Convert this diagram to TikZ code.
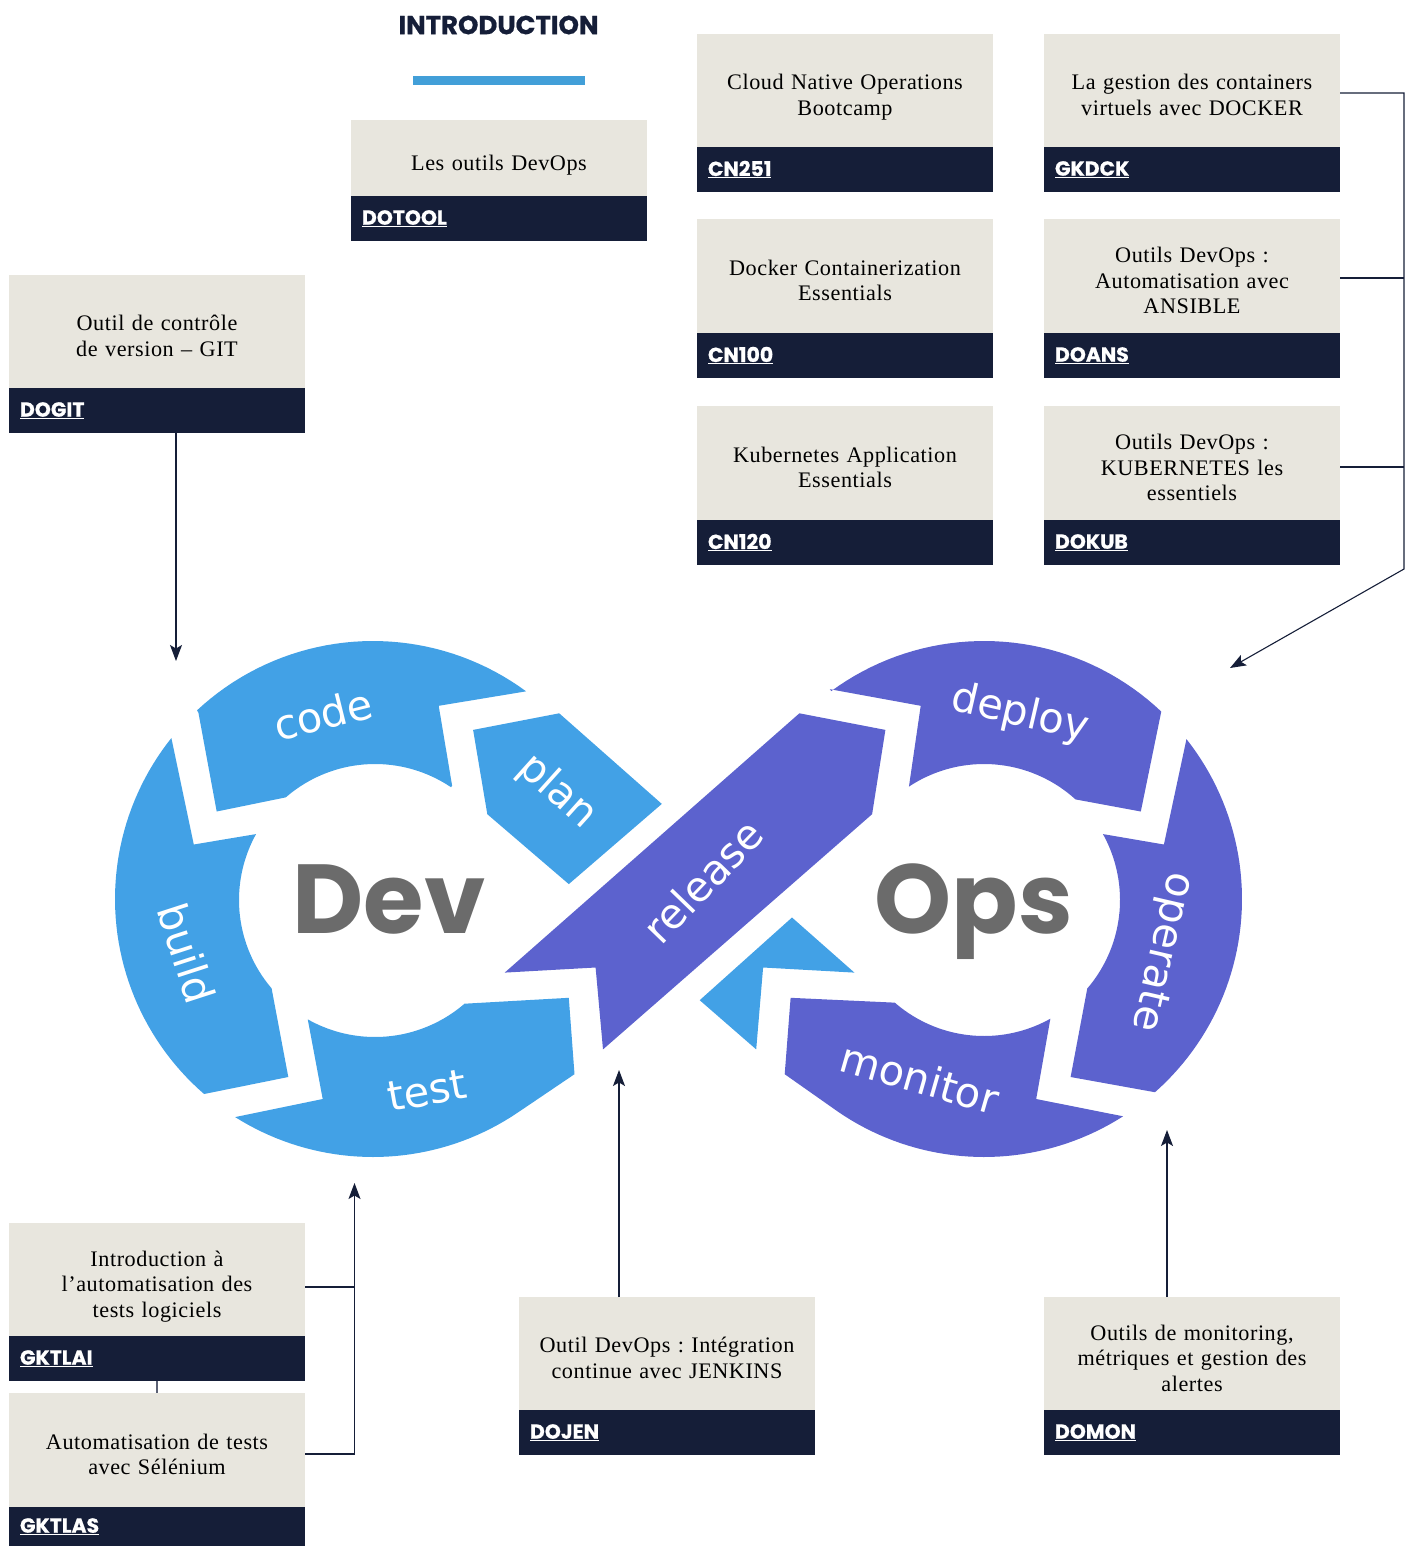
\documentclass[tikz,border=0pt]{standalone}
\usepackage{fontspec}
\usetikzlibrary{arrows.meta,calc}
\setmainfont{Liberation Serif}
\newfontfamily\bodyfont{Liberation Serif}[LetterSpace=2.5]
\newfontfamily\codefont{Poppins}[BoldFont={Poppins Bold},BoldFeatures={FakeBold=0.7}]
\newfontfamily\logofont{DejaVu Sans}
\newfontfamily\bigfont{Poppins}[BoldFont={Poppins Bold}]
\definecolor{beigebox}{HTML}{E8E6DE}
\definecolor{navybox}{HTML}{151E38}
\definecolor{blueseg}{HTML}{42A1E6}
\definecolor{purpleseg}{HTML}{5C62CE}
\definecolor{logogray}{HTML}{6B6B6B}
\definecolor{introbar}{HTML}{429FD8}
\tikzset{
  bodybox/.style={fill=beigebox,inner sep=0pt,outer sep=0pt,align=center,text width=296pt,
    font=\bodyfont\fontsize{22.2}{25.5}\selectfont\frenchspacing},
  codebox/.style={fill=navybox,text=white,inner xsep=11pt,inner ysep=0pt,outer sep=0pt,
    text width=274pt,align=left,font=\codefont\bfseries\fontsize{20.4}{22}\selectfont},
  conn/.style={draw=navybox,line width=1.1pt},
  connarrow/.style={conn,-{Stealth[length=16pt,width=12pt,inset=3.5pt]}},
  seglabel/.style={text=white,font=\logofont\fontsize{41.5}{42}\selectfont,inner sep=0pt},
  biglabel/.style={text=logogray,font=\bigfont\bfseries\fontsize{98}{98}\selectfont,inner sep=0pt},
}
% name, left, top, split, bottom, text, code
\newcommand{\course}[7]{%
  \node[bodybox,minimum height={(#4-#3)*1pt}] (#1) at ({#2+148},{(#3+#4)/2}) {\rule{0pt}{31.85pt}#6\rule[-7.65pt]{0pt}{7.65pt}};
  \node[codebox,minimum height={(#5-#4)*1pt}] (#1code) at ({#2+148},{(#4+#5)/2}) {\raisebox{-2pt}{\underline{#7}}};
}
\begin{document}
\begin{tikzpicture}[x=1pt,y=-1pt]
\useasboundingbox (0,0) rectangle (1411,1546);
% title
\node[font=\codefont\bfseries\fontsize{26}{28}\selectfont,text=navybox,inner sep=0pt] (intro) at (498.5,25) {INTRODUCTION};
\node[fill=introbar,minimum width=172pt,minimum height=9pt,inner sep=0pt,outer sep=0pt] (introbar) at (499,80.5) {};
% courses
\course{dotool}{351}{120}{196}{241}{Les outils DevOps}{DOTOOL}
\course{cnop}{697}{34}{147}{192}{Cloud Native Operations\\Bootcamp}{CN251}
\course{gkdck}{1044}{34}{147}{192}{La gestion des containers\\virtuels avec DOCKER}{GKDCK}
\course{cnhun}{697}{219}{333}{378}{Docker Containerization\\Essentials}{CN100}
\course{doans}{1044}{219}{333}{378}{Outils DevOps :\\Automatisation avec\\ANSIBLE}{DOANS}
\course{cnkub}{697}{406}{520}{565}{Kubernetes Application\\Essentials}{CN120}
\course{dokub}{1044}{406}{520}{565}{Outils DevOps :\\KUBERNETES les\\essentiels}{DOKUB}
\course{dogit}{9}{275}{388}{433}{Outil de contrôle\\de version – GIT}{DOGIT}
\course{gktlai}{9}{1223}{1336}{1381}{Introduction à\\l’automatisation des\\tests logiciels}{GKTLAI}
\course{gktlas}{9}{1393}{1507}{1546}{Automatisation de tests\\avec Sélénium}{GKTLAS}
\course{dojen}{519}{1297}{1410}{1455}{Outil DevOps : Intégration\\continue avec JENKINS}{DOJEN}
\course{domon}{1044}{1297}{1410}{1455}{Outils de monitoring,\\métriques et gestion des\\alertes}{DOMON}
% logo: Dev side
\fill[blueseg] (216.7,811.5) -- (198.4,712.6)
  -- plot[domain=227:306.4,samples=40] ({373+258*cos(\x)},{899+258*sin(\x)})
  -- (438.7,705.8) -- (452.1,785.6)
  -- plot[domain=304:229,samples=40] ({375+136*cos(\x)},{900+136*sin(\x)})
  -- cycle;
\fill[blueseg] (473.1,729.9) -- (559.2,713.3) -- (661.8,803.9) -- (568.8,884.1) -- (487.3,814.2) -- cycle;
\fill[blueseg] (193.8,844.5)
  -- plot[domain=218.6:130.9,samples=50] ({373+258*cos(\x)},{899+258*sin(\x)})
  -- (288.3,1077)
  -- plot[domain=139.5:209,samples=40] ({375+136*cos(\x)},{900+136*sin(\x)})
  -- cycle;
\fill[blueseg] (322.7,1099)
  -- plot[domain=122.3:56,samples=40] ({373+258*cos(\x)},{899+258*sin(\x)})
  -- (574.5,1074.2) -- (568.8,997.8)
  -- plot[domain=49.2:119.4,samples=40] ({375+137*cos(\x)},{900+137*sin(\x)})
  -- cycle;
\fill[blueseg] (792,917.5) -- (854.4,972.6) -- (763.1,967.5) -- (756.2,1049.4) -- (699.7,1000.2) -- cycle;
% logo: Ops side
\fill[purpleseg] (504.7,972.6) -- (799.4,713.3) -- (885.4,729.9) -- (872.1,814.2) -- (603,1049.4) -- (595.6,967.5) -- cycle;
\fill[purpleseg] (920.7,705.8)-- (829.9,689.2)
  -- plot[domain=233.7:313.4,samples=40] ({984+258*cos(\x)},{899+258*sin(\x)})
  -- (1140.8,811.5)
  -- plot[domain=312.3:236.5,samples=40] ({984+136*cos(\x)},{900+136*sin(\x)})
  -- cycle;
\fill[purpleseg] (1163.9,844.5)
  -- plot[domain=321.7:408.5,samples=50] ({984+258*cos(\x)},{899+258*sin(\x)})
  -- (1070.6,1077)
  -- plot[domain=40.6:-29,samples=40] ({984+136*cos(\x)},{900+136*sin(\x)})
  -- cycle;
\fill[purpleseg] (1036.2,1099) -- (1122.6,1116.2)
  -- plot[domain=57.4:124.4,samples=40] ({984+258*cos(\x)},{899+258*sin(\x)})
  -- (784.7,1074.2) -- (790.6,997.8)
  -- plot[domain=131:60.8,samples=40] ({984+136*cos(\x)},{900+136*sin(\x)})
  -- cycle;
% logo words
\node[biglabel] (dev) at (389,899) {Dev};
\node[biglabel] (ops) at (974,912) {Ops};
\node[seglabel,rotate=14] (wcode) at (323,714) {code};
\node[seglabel,rotate=-42] (wplan) at (557,792) {plan};
\node[seglabel,rotate=-72] (wbuild) at (187,953) {build};
\node[seglabel,rotate=10] (wtest) at (427,1091) {test};
\node[seglabel,rotate=46] (wrelease) at (703,881) {release};
\node[seglabel,rotate=-13] (wdeploy) at (1020,714) {deploy};
\node[seglabel,rotate=-103] (woperate) at (1161,952) {operate};
\node[seglabel,rotate=-16] (wmonitor) at (920,1078) {monitor};
% connector targets
\coordinate (buildIn) at (176,661);
\coordinate (testIn) at (354.5,1183);
\coordinate (releaseIn) at (619,1070);
\coordinate (monitorIn) at (1167,1130);
\coordinate (opsIn) at (1230,668);
\coordinate (trunkA) at (1404,93);
\coordinate (trunkB) at (1404,278);
\coordinate (trunkC) at (1404,467);
\coordinate (trunkD) at (1404,569);
\coordinate (testA) at (354.5,1287);
\coordinate (testB) at (354.5,1454);
% connectors
\draw[connarrow] (dogitcode.south -| buildIn) -- (buildIn);
\draw[connarrow] (gkdck.east |- trunkA) -- (trunkA) -- (trunkD) -- (opsIn);
\draw[conn] (doans.east |- trunkB) -- (trunkB);
\draw[conn] (dokub.east |- trunkC) -- (trunkC);
\draw[connarrow] (gktlas.east |- testB) -- (testB) -- (testIn);
\draw[conn] (gktlai.east |- testA) -- (testA);
\draw[conn,draw=navybox!70] (gktlaicode.south) -- (gktlas.north);
\draw[connarrow] (dojen.north -| releaseIn) -- (releaseIn);
\draw[connarrow] (domon.north -| monitorIn) -- (monitorIn);
\end{tikzpicture}
\end{document}
